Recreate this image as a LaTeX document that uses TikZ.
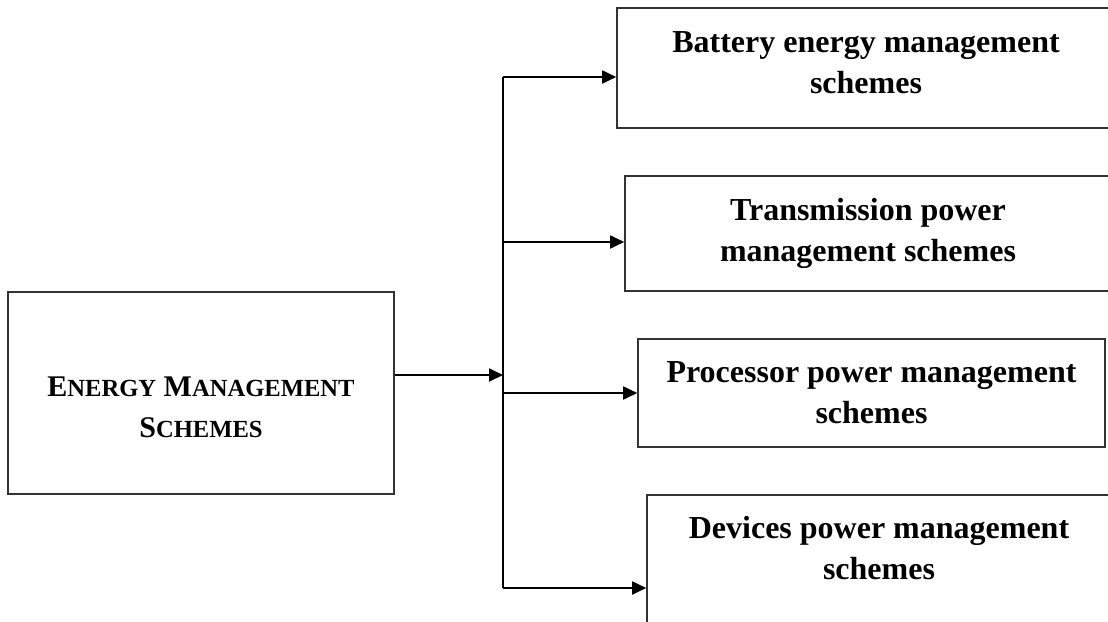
\documentclass[tikz,border=0pt]{standalone}
\usepackage{fontspec}
\setmainfont{Liberation Serif}
\usetikzlibrary{arrows.meta}
\tikzset{
  schemebox/.style = {draw=black!80,line width=1.6pt,align=center,inner sep=0pt,
                      font=\bfseries\fontsize{32}{41}\selectfont},
  flowarr/.style   = {-{Triangle[length=14pt,width=13pt]},line width=1.8pt},
  busline/.style   = {line width=1.8pt}
}
\newcommand{\lowcap}[1]{{\fontsize{24.6}{41}\selectfont #1}}

\begin{document}
\begin{tikzpicture}[x=1pt,y=-1pt]
  \clip (0,0) rectangle (1108,621);
  \node[schemebox,minimum width=386pt,minimum height=202pt,text height=90pt,
        font=\bfseries\fontsize{30}{41}\selectfont] (ems) at (201,393)
        {E\lowcap{NERGY} M\lowcap{ANAGEMENT}\\S\lowcap{CHEMES}};
  \node[schemebox,minimum width=498pt,minimum height=120pt,text depth=10pt] (battery) at (866,68)
        {Battery energy management\\schemes};
  \node[schemebox,minimum width=486pt,minimum height=115pt] (trans) at (868,233.5)
        {Transmission power\\management schemes};
  \node[schemebox,minimum width=467pt,minimum height=108pt] (proc) at (871.5,393)
        {Processor power management\\schemes};
  \node[schemebox,minimum width=464pt,minimum height=145pt,text depth=39pt] (dev) at (879,567.5)
        {Devices power management\\schemes};
  % bus with its branches
  \coordinate (fork) at (503,375);
  \coordinate (b1) at (503,77);
  \coordinate (b2) at (503,242);
  \coordinate (b3) at (503,393);
  \coordinate (b4) at (503,588);
  \draw[busline] (b1) -- (b4);
  \draw[flowarr] (fork -| ems.east) -- (fork);
  \foreach \c/\n in {b1/battery,b2/trans,b3/proc,b4/dev}
    \draw[flowarr] (\c) -- (\c -| \n.west);
\end{tikzpicture}
\end{document}
